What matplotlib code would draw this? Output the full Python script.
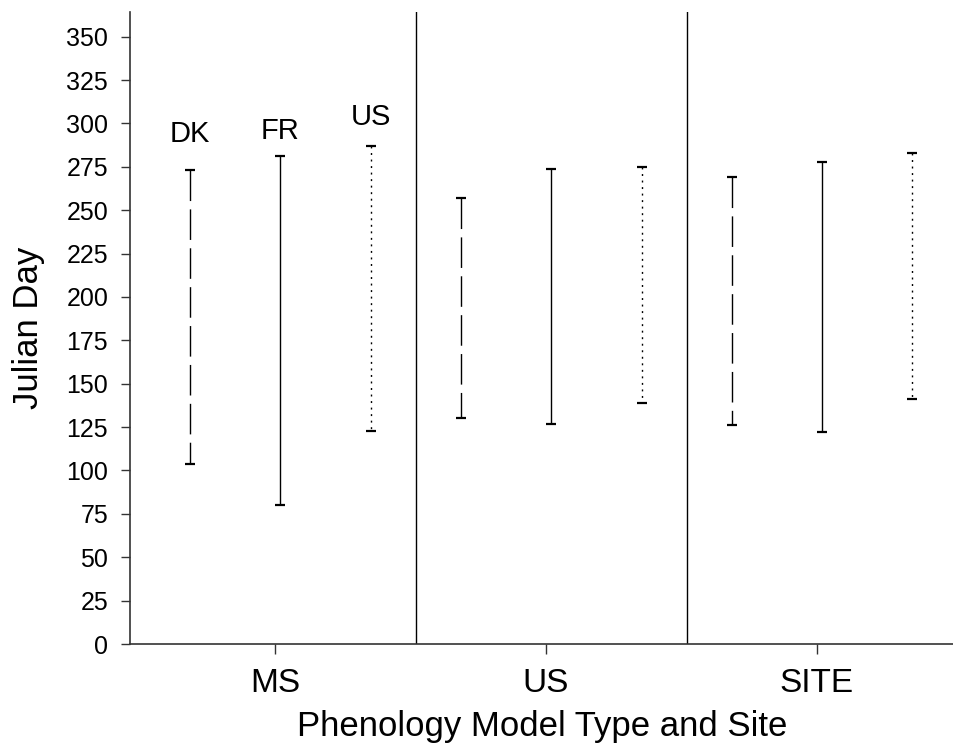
import matplotlib
matplotlib.use('Agg')
import matplotlib.pyplot as plt

plt.rcParams['font.family'] = ['Liberation Sans', 'DejaVu Sans']

# model types (groups) and sites within each group
groups = ['MS', 'US', 'SITE']
sites = ['DK', 'FR', 'US']

# julian day ranges (start, end) per group, per site
lows = [[104, 80, 123],
        [130, 127, 139],
        [126, 122, 141]]
highs = [[273, 281, 287],
         [257, 274, 275],
         [269, 278, 283]]

yticks = list(range(0, 351, 25))

styles = {'DK': (0, (22, 6)), 'FR': '-', 'US': (0, (1.4, 3.3))}

fig = plt.figure(figsize=(9.54, 7.44), dpi=100)
ax = fig.add_axes([0.136, 0.1344, 0.864, 0.849])

for g in range(len(groups)):
    for s, site in enumerate(sites):
        x = g * 3 + s
        # draw from the top down so the dash pattern starts at the top cap
        ax.vlines(x, highs[g][s], lows[g][s], colors='black', linewidth=1.0,
                  linestyles=styles[site])
        ax.plot([x, x], [lows[g][s], highs[g][s]], linestyle='none', marker='_',
                markersize=7.5, markeredgewidth=1.6, color='black')

# site labels above the first group
ax.text(0, 289, 'DK', ha='center', va='baseline', fontsize=21)
ax.text(1, 291, 'FR', ha='center', va='baseline', fontsize=21)
ax.text(2, 299, 'US', ha='center', va='baseline', fontsize=21)

# group separators
ax.axvline(2.5, color='black', linewidth=1.0)
ax.axvline(5.5, color='black', linewidth=1.0)

ax.set_xlim(-0.667, 8.46)
ax.set_ylim(0, 364)
ax.set_yticks(yticks)
ax.set_xticks([0.94 + 3 * g for g in range(len(groups))])
ax.set_xticklabels(groups)

ax.spines['top'].set_visible(False)
ax.spines['right'].set_visible(False)
for sp in ('left', 'bottom'):
    ax.spines[sp].set_color('#333333')
    ax.spines[sp].set_linewidth(1.2)

ax.tick_params(axis='y', direction='out', length=6.5, width=1, labelsize=18, pad=9, color='#333333')
ax.tick_params(axis='x', direction='out', length=7, width=1, labelsize=24, pad=10, color='#333333')

ax.set_ylabel('Julian Day', fontsize=25, labelpad=15)
ax.set_xlabel('Phenology Model Type and Site', fontsize=25, labelpad=8)

fig.savefig('out.png', dpi=100)
